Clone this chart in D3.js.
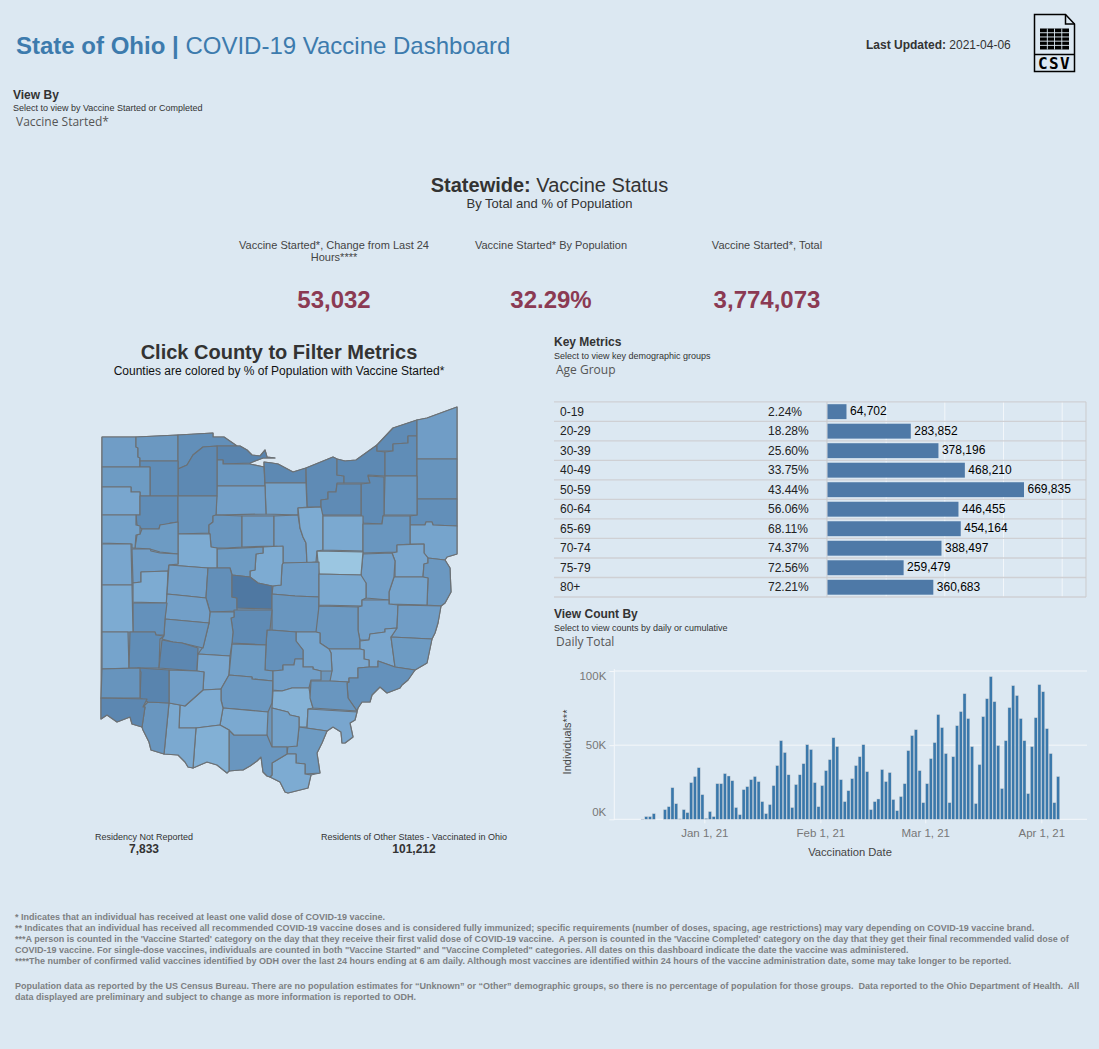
<!DOCTYPE html>
<html>
<head>
<meta charset="utf-8">
<script src="https://cdn.jsdelivr.net/npm/d3@7"></script>
<style>
  html, body { margin: 0; padding: 0; background: #dce8f2; }
  svg { display: block; }
  text { font-family: "Liberation Sans", Arial, sans-serif; }
</style>
</head>
<body>
<svg id="chart" width="1099" height="1049"></svg>
<script>
// key metrics table
const ageGroups = ["0-19","20-29","30-39","40-49","50-59","60-64","65-69","70-74","75-79","80+"];
const agePct = ["2.24%","18.28%","25.60%","33.75%","43.44%","56.06%","68.11%","74.37%","72.56%","72.21%"];
const ageTotals = [64702,283852,378196,468210,669835,446455,454164,388497,259479,360683];
const ageGridTicks = [200000,400000,600000,800000];

// daily counts in thousands, first bar is Dec 15 2020
const dailyStart = new Date(2020, 11, 15);
const dailyK = [0.2,1.8,1.8,3.8,0,0,6.5,8.5,21.3,10.5,0.3,6.5,4.5,24.7,28.8,34.8,16.6,
  0.6,5.2,1.8,24,24,30.8,29.2,26,7.9,3.1,20,22,26.7,28.8,25.4,11.9,3.8,9.9,22.7,36.2,53,45,30,7.9,23.4,30,37.5,50.3,47,24.7,8.5,22.7,
  32.8,40.2,55,49,26.7,11.9,19.3,27.4,36.2,42.2,50.3,32.1,6.5,11.9,13.7,33.5,25.4,31.5,13.3,5.8,15.3,24,46.3,56.4,60.4,32.8,11.2,
  24,40.9,51.7,70.6,61.8,44.3,11.2,42.2,63.1,72.6,84.7,67.9,49,10.6,36.9,69.2,81.3,96.2,79.3,49.7,20.7,53,75.3,90.1,83.4,67.9,53,17.3,49,68.5,90.8,
  86,61.1,44.3,11.2,28.8];
const yTicks = [0, 50000, 100000];
const xTicks = [new Date(2021,0,1), new Date(2021,1,1), new Date(2021,2,1), new Date(2021,3,1)];

const countyNames = ["Williams","Fulton","Lucas","Ottawa","Sandusky","Erie","Lorain","Cuyahoga","Lake","Geauga","Ashtabula","Trumbull","Mahoning","Columbiana","Portage","Summit","Medina","Huron","Seneca","Wood","Henry","Defiance","Paulding","Putnam","Hancock","Wyandot","Crawford","Richland","Ashland","Wayne","Stark","Carroll","Jefferson","Harrison","Tuscarawas","Holmes","Knox","Morrow","Marion","Hardin","Allen","Van Wert","Mercer","Auglaize","Shelby","Logan","Union","Delaware","Licking","Coshocton","Guernsey","Belmont","Muskingum","Noble","Monroe","Morgan","Washington","Perry","Fairfield","Franklin","Madison","Champaign","Clark","Miami","Darke","Preble","Montgomery","Greene","Fayette","Pickaway","Ross","Hocking","Vinton","Athens","Meigs","Gallia","Jackson","Lawrence","Scioto","Pike","Highland","Adams","Brown","Clermont","Clinton","Warren","Butler","Hamilton"];
const countyPct = [30,32,36,42,33,39,38,39,38,37,30,34,36,27,33,38,38,28,29,39,37,31,26,37,34,33,30,29,24,25,33,26,32,27,29,13,30,24,31,24,31,28,26,30,24,29,36,48,33,25,29,30,32,26,31,26,35,27,35,38,31,29,33,35,24,27,37,40,26,31,32,29,21,33,26,31,28,24,33,25,24,22,25,33,30,42,34,40];
const stateOutline = [[102,437],[136,437],[178,435],[213,433],[213,437],[224,437],[237,446],[240,446],[247,450],[252,455],[260,456],[265,450],[267,457],[275,458],[263,458],[250,463],[250,464],[264,467],[264,462],[272,463],[278,464],[293,472],[306,468],[333,457],[337,459],[345,461],[356,460],[377,445],[393,428],[417,420],[427,418],[457,407],[457,554],[447,557],[445,560],[450,568],[451,592],[445,603],[441,606],[438,623],[435,633],[432,639],[427,663],[415,670],[408,680],[402,685],[400,688],[387,693],[380,687],[372,695],[370,702],[362,702],[358,708],[357,712],[355,720],[350,723],[353,737],[345,743],[342,743],[341,732],[333,727],[327,731],[322,743],[317,753],[320,773],[311,775],[308,788],[288,793],[285,792],[280,782],[270,777],[267,776],[263,772],[261,757],[257,761],[250,766],[243,770],[240,770],[229,771],[227,773],[217,765],[207,762],[193,768],[188,767],[185,762],[178,755],[164,754],[151,750],[149,742],[143,730],[142,727],[132,724],[130,717],[117,722],[107,715],[101,719],[101,698]];
const countyOutlines = [
  [[102,437],[136,437],[136,447],[138,448],[138,457],[140,458],[140,467],[102,467]],
  [[136,437],[178,435],[178,461],[140,461],[140,458],[138,457],[138,448],[136,447]],
  [[178,435],[213,433],[213,437],[224,437],[237,446],[217,446],[203,447],[193,455],[187,465],[178,469]],
  [[217,446],[240,446],[247,450],[252,455],[260,456],[265,450],[267,457],[275,458],[263,458],[250,463],[223,464],[223,460],[217,460]],
  [[217,460],[223,460],[223,464],[250,464],[264,467],[265,486],[217,486]],
  [[265,483],[264,462],[272,463],[278,464],[293,472],[306,468],[306,483]],
  [[306,468],[333,457],[337,459],[337,475],[344,476],[344,483],[337,483],[336,492],[328,492],[328,499],[321,500],[321,507],[307,507]],
  [[337,459],[345,461],[356,460],[377,445],[377,451],[385,452],[385,476],[368,475],[370,483],[344,483],[344,476],[337,475]],
  [[377,445],[393,428],[417,420],[417,436],[408,436],[408,443],[393,444],[393,451],[377,451]],
  [[385,452],[393,451],[393,444],[408,443],[408,436],[417,436],[417,476],[385,476]],
  [[417,420],[427,418],[457,407],[457,459],[417,459]],
  [[417,459],[457,459],[457,499],[417,499]],
  [[417,499],[457,499],[457,526],[433,525],[432,522],[426,522],[425,525],[410,525],[410,516],[417,515]],
  [[410,525],[425,525],[426,522],[432,522],[433,525],[457,526],[457,554],[447,557],[445,560],[428,558],[424,553],[424,544],[410,544]],
  [[385,476],[417,476],[417,515],[384,515]],
  [[368,476],[384,477],[384,515],[383,516],[382,524],[363,523],[361,515],[361,484],[370,483]],
  [[337,484],[361,484],[361,515],[321,515],[321,500],[328,499],[328,492],[336,492]],
  [[265,483],[306,483],[307,507],[298,508],[298,515],[266,514]],
  [[217,486],[265,486],[266,514],[216,515]],
  [[178,469],[187,465],[193,455],[203,447],[217,446],[217,496],[178,496]],
  [[140,461],[178,461],[178,496],[150,496],[150,467],[140,467]],
  [[102,467],[150,467],[150,496],[140,496],[140,492],[131,492],[131,487],[102,487]],
  [[102,487],[131,487],[131,492],[140,492],[140,515],[102,515]],
  [[140,496],[178,496],[178,522],[170,523],[170,524],[160,525],[159,529],[142,529],[137,525],[136,515],[140,515]],
  [[178,496],[217,496],[216,515],[213,516],[213,522],[209,525],[209,533],[178,534]],
  [[216,515],[242,516],[242,547],[227,548],[217,548],[211,547],[210,534],[209,533],[209,525],[213,522],[213,516]],
  [[242,516],[274,516],[274,546],[242,547]],
  [[274,516],[298,515],[300,528],[303,537],[306,543],[307,563],[283,563],[283,547],[274,546]],
  [[298,508],[321,507],[323,516],[323,550],[317,551],[316,562],[307,563],[306,543],[303,537],[300,528]],
  [[323,516],[363,516],[363,551],[323,550]],
  [[383,516],[410,516],[410,544],[397,545],[397,552],[363,553],[363,524],[382,524]],
  [[392,553],[397,552],[397,545],[424,544],[424,553],[428,558],[428,563],[424,564],[423,577],[395,577],[395,561]],
  [[428,558],[445,560],[450,568],[451,592],[445,603],[441,606],[427,605],[428,578],[423,577],[424,564],[428,563]],
  [[394,577],[423,577],[428,578],[427,605],[389,604],[389,592]],
  [[363,554],[392,553],[395,561],[394,577],[389,592],[389,600],[366,598],[366,583],[358,582],[361,575]],
  [[317,551],[363,552],[361,575],[319,574]],
  [[283,563],[319,562],[319,597],[295,596],[272,594],[273,586],[281,585],[282,565]],
  [[256,554],[263,553],[263,547],[283,546],[283,563],[282,565],[281,585],[272,586],[258,583],[250,577],[250,571],[255,570]],
  [[217,549],[263,547],[263,553],[256,554],[255,570],[250,571],[250,577],[232,575],[230,568],[217,568]],
  [[178,534],[210,534],[211,547],[217,548],[217,568],[208,568],[169,565],[178,564]],
  [[137,535],[140,534],[142,529],[159,529],[160,525],[178,522],[178,554],[160,552],[150,549],[135,548]],
  [[102,515],[136,515],[136,525],[140,526],[140,534],[136,535],[135,548],[132,548],[132,544],[102,543]],
  [[102,544],[131,544],[132,585],[102,585]],
  [[132,549],[150,549],[151,551],[160,553],[178,554],[178,564],[169,565],[168,571],[141,572],[141,582],[133,583]],
  [[141,572],[168,571],[167,594],[167,603],[133,602],[133,583],[141,582]],
  [[169,565],[208,568],[206,598],[187,596],[167,594]],
  [[208,568],[230,568],[232,575],[232,597],[237,598],[237,611],[210,612],[206,598]],
  [[232,575],[250,577],[258,583],[272,586],[272,609],[237,608],[237,598],[232,597]],
  [[272,594],[295,596],[319,597],[318,632],[296,632],[272,630]],
  [[319,574],[361,575],[366,583],[366,598],[362,600],[362,606],[319,605]],
  [[362,600],[389,600],[389,604],[398,605],[397,628],[385,629],[385,632],[378,633],[370,634],[369,640],[360,640],[358,630],[358,607],[362,606]],
  [[398,605],[441,606],[438,623],[435,633],[432,639],[391,637],[397,628]],
  [[319,606],[358,607],[358,630],[360,641],[360,649],[329,649],[320,643],[320,633],[316,632]],
  [[360,641],[369,640],[370,634],[378,633],[385,632],[385,629],[397,628],[391,637],[395,667],[378,661],[378,667],[369,667],[369,660],[364,659],[364,650],[360,649]],
  [[391,637],[432,639],[427,663],[415,670],[395,667]],
  [[329,649],[360,649],[364,650],[364,659],[369,660],[369,667],[358,668],[358,678],[349,678],[349,682],[330,681],[332,671],[331,653]],
  [[358,668],[369,667],[378,667],[378,661],[395,667],[415,670],[408,680],[402,685],[400,688],[387,693],[380,687],[372,695],[370,702],[362,702],[358,708],[357,711],[348,698],[347,683],[349,682],[349,678],[358,678]],
  [[296,632],[316,632],[320,633],[320,643],[329,649],[331,653],[332,671],[321,671],[313,669],[313,667],[303,667],[303,650],[296,641]],
  [[270,630],[296,632],[296,641],[303,650],[303,659],[295,659],[294,665],[283,665],[283,670],[273,671],[265,670],[266,645],[267,630]],
  [[234,610],[272,610],[270,630],[267,630],[266,645],[232,643],[233,632],[231,618],[234,617]],
  [[210,612],[234,612],[234,617],[231,618],[233,632],[232,643],[230,656],[198,654],[203,647],[209,623]],
  [[167,594],[187,596],[206,598],[210,612],[209,623],[165,619]],
  [[165,619],[209,623],[203,648],[182,643],[173,642],[162,639],[164,635]],
  [[133,603],[167,603],[165,619],[164,635],[156,635],[155,632],[133,632]],
  [[102,585],[132,585],[133,632],[102,632]],
  [[102,632],[128,632],[129,668],[102,669]],
  [[130,632],[155,632],[156,635],[164,636],[160,639],[159,668],[138,668],[129,668]],
  [[162,640],[173,642],[182,643],[198,648],[197,671],[159,668]],
  [[198,654],[230,656],[229,675],[221,689],[203,690],[204,672],[197,671]],
  [[232,644],[266,645],[265,670],[273,671],[273,681],[252,679],[252,677],[229,675]],
  [[229,675],[252,677],[252,679],[273,681],[272,703],[268,712],[223,708],[221,700],[221,689]],
  [[273,671],[283,670],[283,665],[294,665],[295,659],[303,659],[303,667],[313,667],[313,669],[321,671],[321,680],[311,680],[309,688],[292,688],[282,691],[273,690]],
  [[273,691],[282,691],[292,688],[309,688],[311,700],[313,708],[308,709],[307,727],[299,727],[299,717],[290,715],[288,712],[272,708]],
  [[311,681],[330,681],[349,682],[347,683],[348,698],[357,711],[313,708],[310,698]],
  [[308,709],[357,712],[355,720],[350,723],[353,737],[345,743],[342,743],[341,732],[333,727],[327,731],[307,728]],
  [[299,727],[327,731],[322,743],[317,753],[320,773],[305,774],[305,764],[296,763],[296,754],[287,754],[288,746],[297,746]],
  [[272,708],[288,712],[290,715],[299,717],[299,727],[297,746],[287,747],[272,747]],
  [[272,763],[287,754],[296,754],[296,763],[305,764],[305,774],[311,775],[308,788],[288,793],[285,792],[280,782],[270,777],[272,775]],
  [[229,730],[234,735],[267,735],[272,747],[287,747],[287,754],[272,763],[272,775],[270,777],[267,776],[263,772],[261,757],[257,761],[250,766],[243,770],[240,770],[229,771]],
  [[223,708],[268,712],[267,735],[234,735],[229,730],[220,725]],
  [[180,705],[185,706],[203,690],[221,689],[221,700],[223,708],[220,725],[196,728],[179,728]],
  [[196,728],[220,725],[229,730],[229,771],[227,773],[217,765],[207,762],[193,768]],
  [[179,728],[196,728],[193,768],[188,767],[185,762],[178,755],[164,754],[169,703],[180,705]],
  [[143,707],[148,702],[169,703],[164,754],[151,750],[149,742],[143,730],[142,727],[145,707]],
  [[169,670],[197,671],[204,672],[203,690],[185,706],[180,705],[169,703]],
  [[138,668],[169,670],[169,703],[148,702],[140,698],[141,672]],
  [[102,669],[140,668],[140,698],[117,698],[101,698]],
  [[101,698],[147,699],[143,707],[145,707],[142,727],[132,724],[130,717],[117,722],[107,715],[101,719]]
];

const footnotes = [
  "* Indicates that an individual has received at least one valid dose of COVID-19 vaccine.",
  "** Indicates that an individual has received all recommended COVID-19 vaccine doses and is considered fully immunized; specific requirements (number of doses, spacing, age restrictions) may vary depending on COVID-19 vaccine brand.",
  "***A person is counted in the 'Vaccine Started' category on the day that they receive their first valid dose of COVID-19 vaccine.  A person is counted in the 'Vaccine Completed' category on the day that they get their final recommended valid dose of",
  "COVID-19 vaccine. For single-dose vaccines, individuals are counted in both \"Vaccine Started\" and \"Vaccine Completed\" categories. All dates on this dashboard indicate the date the vaccine was administered.",
  "****The number of confirmed valid vaccines identified by ODH over the last 24 hours ending at 6 am daily. Although most vaccines are identified within 24 hours of the vaccine administration date, some may take longer to be reported.",
  "",
  "",
  "Population data as reported by the US Census Bureau. There are no population estimates for \u201cUnknown\u201d or \u201cOther\u201d demographic groups, so there is no percentage of population for those groups.  Data reported to the Ohio Department of Health.  All",
  "data displayed are preliminary and subject to change as more information is reported to ODH."
];

const svg = d3.select("#chart");
svg.append("rect").attr("width", 1099).attr("height", 1049).attr("fill", "#dce8f2");

function label(x, y, str, size, opts) {
  opts = opts || {};
  return svg.append("text").attr("x", x).attr("y", y)
    .attr("font-size", size)
    .attr("font-weight", opts.bold ? "bold" : "normal")
    .attr("fill", opts.fill || "#333")
    .attr("text-anchor", opts.anchor || "start")
    .style("font-family", opts.family || null)
    .style("white-space", "pre")
    .text(str);
}

// header
const head = label(16, 54, "State of Ohio | ", 24, {bold: true, fill: "#3d7bad"});
head.append("tspan").attr("font-weight", "normal").text("COVID-19 Vaccine Dashboard");
const upd = label(866, 49, "Last Updated: ", 12, {bold: true});
upd.append("tspan").attr("font-weight", "normal").text("2021-04-06");

// csv icon
const icon = svg.append("g").attr("fill", "none").attr("stroke", "#000").attr("stroke-width", 1.5);
icon.append("path").attr("d", "M1034.5 14.5H1065.5L1074.5 24V71.5H1034.5Z");
icon.append("path").attr("d", "M1065.5 14.5V24H1074.5");
icon.append("path").attr("d", "M1034.5 54.5H1074.5");
icon.append("rect").attr("x", 1040).attr("y", 28.5).attr("width", 29).attr("height", 21).attr("fill", "#000").attr("stroke", "none");
d3.range(1, 5).forEach(i => {
  svg.append("rect").attr("x", 1040).attr("y", 28.5 + i * 4.2 - 0.4).attr("width", 29).attr("height", 0.9).attr("fill", "#dce8f2");
});
d3.range(1, 4).forEach(i => {
  svg.append("rect").attr("x", 1040 + i * 7.25 - 0.4).attr("y", 28.5).attr("width", 0.9).attr("height", 21).attr("fill", "#dce8f2");
});
label(1054.5, 69, "CSV", 16, {bold: true, fill: "#000", anchor: "middle", family: "'DejaVu Sans Mono', monospace"}).attr("letter-spacing", 1.4);

// parameter controls
const paramFont = "'Open Sans', sans-serif";
label(13, 99, "View By", 12, {bold: true});
label(13, 110.5, "Select to view by Vaccine Started or Completed", 9);
label(16, 126, "Vaccine Started*", 12, {fill: "#555", family: paramFont});
label(554, 346, "Key Metrics", 12, {bold: true});
label(554, 358.5, "Select to view key demographic groups", 9);
label(556, 374, "Age Group", 12, {fill: "#555", family: paramFont});
label(554, 618, "View Count By", 12, {bold: true});
label(554, 630.5, "Select to view counts by daily or cumulative", 9);
label(556, 646, "Daily Total", 12, {fill: "#555", family: paramFont});

// statewide kpis
const state = label(549.5, 192, "Statewide: ", 20, {bold: true, anchor: "middle"});
state.append("tspan").attr("font-weight", "normal").text("Vaccine Status");
label(549.5, 208, "By Total and % of Population", 13, {anchor: "middle"});
label(334, 249, "Vaccine Started*, Change from Last 24", 11, {anchor: "middle", fill: "#444"});
label(334, 261, "Hours****", 11, {anchor: "middle", fill: "#444"});
label(551, 249, "Vaccine Started* By Population", 11, {anchor: "middle", fill: "#444"});
label(767, 249, "Vaccine Started*, Total", 11, {anchor: "middle", fill: "#444"});
label(334, 308, "53,032", 24, {bold: true, anchor: "middle", fill: "#8b3a53"});
label(551, 308, "32.29%", 24, {bold: true, anchor: "middle", fill: "#8b3a53"});
label(767, 308, "3,774,073", 24, {bold: true, anchor: "middle", fill: "#8b3a53"});

// map
label(279, 359, "Click County to Filter Metrics", 20, {bold: true, anchor: "middle"});
label(279, 375, "Counties are colored by % of Population with Vaccine Started*", 12, {anchor: "middle", fill: "#111"});

const mapX = d3.scaleLinear().domain([100, 460]).range([100, 460]);
const mapY = d3.scaleLinear().domain([400, 800]).range([400, 800]);
const color = d3.scaleLinear()
  .domain([13, 24, 36, 48])
  .range(["#9bc6e1", "#7dabd2", "#628fb9", "#4f78a2"]);
const countyLine = d3.line().x(d => mapX(d[0])).y(d => mapY(d[1])).curve(d3.curveLinearClosed);

// state shape under the counties so traced seams do not show the page
svg.append("path").datum(stateOutline)
  .attr("d", countyLine)
  .attr("fill", "#6c96bc")
  .attr("stroke", "#6c7175")
  .attr("stroke-width", 1.1)
  .attr("stroke-linejoin", "round");

svg.append("g").selectAll("path")
  .data(countyOutlines)
  .join("path")
    .attr("d", countyLine)
    .attr("fill", (d, i) => color(countyPct[i]))
    .attr("stroke", "#6c7175")
    .attr("stroke-width", 1.2)
    .attr("stroke-linejoin", "round")
  .append("title").text((d, i) => countyNames[i]);

label(144, 840, "Residency Not Reported", 9, {anchor: "middle"});
label(144, 853, "7,833", 12, {bold: true, anchor: "middle"});
label(414, 840, "Residents of Other States - Vaccinated in Ohio", 9, {anchor: "middle"});
label(414, 853, "101,212", 12, {bold: true, anchor: "middle"});

// key metrics table
const rowY = d3.scaleBand().domain(ageGroups).range([401.9, 597]);
const barX = d3.scaleLinear().domain([0, 669835]).range([827.5, 1024]);
const table = svg.append("g");

table.selectAll("line.vgrid")
  .data(ageGridTicks)
  .join("line")
    .attr("class", "vgrid")
    .attr("x1", d => barX(d)).attr("x2", d => barX(d))
    .attr("y1", 401.9).attr("y2", 597)
    .attr("stroke", "#f2f6fa").attr("stroke-width", 1);
table.selectAll("line.row")
  .data(d3.range(ageGroups.length + 1))
  .join("line")
    .attr("class", "row")
    .attr("x1", 554).attr("x2", 1086)
    .attr("y1", i => 401.9 + i * rowY.step())
    .attr("y2", i => 401.9 + i * rowY.step())
    .attr("stroke", "#cfd0d4").attr("stroke-width", 1.3);
[827, 1086].forEach(x => {
  table.append("line").attr("x1", x).attr("x2", x).attr("y1", 401.9).attr("y2", 597)
    .attr("stroke", "#cbcbcd").attr("stroke-width", 1);
});
table.selectAll("rect.bar")
  .data(ageTotals)
  .join("rect")
    .attr("class", "bar")
    .attr("x", barX(0))
    .attr("y", (d, i) => rowY(ageGroups[i]) + 2.3)
    .attr("width", d => barX(d) - barX(0))
    .attr("height", rowY.bandwidth() - 4.6)
    .attr("fill", "#4e79a7");
const fmt = d3.format(",");
ageGroups.forEach((g, i) => {
  const cy = rowY(g) + rowY.bandwidth() / 2 + 4;
  label(560, cy, g, 12, {fill: "#222"});
  label(768, cy, agePct[i], 12, {fill: "#222"});
  label(barX(ageTotals[i]) + 3.5, cy - 0.5, fmt(ageTotals[i]), 12, {fill: "#000"});
});

// daily chart
const dailyDates = dailyK.map((d, i) => d3.timeDay.offset(dailyStart, i));
const x = d3.scaleTime().domain([new Date(2021,0,1), new Date(2021,3,1)]).range([704.3, 1041.3]);
const y = d3.scaleLinear().domain([0, 100000]).range([819.3, 671]);
const dayW = x(new Date(2021,0,2)) - x(new Date(2021,0,1));

const yAxis = d3.axisLeft(y).tickValues(yTicks).tickFormat(d => d / 1000 + "K").tickSize(5).tickPadding(3);
const xAxis = d3.axisBottom(x).tickValues(xTicks).tickFormat(d3.timeFormat("%b %-d, %y")).tickSize(4).tickPadding(6);

const plot = svg.append("g");
plot.selectAll("line.grid")
  .data(yTicks)
  .join("line")
    .attr("class", "grid")
    .attr("x1", 614.3).attr("x2", 1087)
    .attr("y1", d => y(d)).attr("y2", d => y(d))
    .attr("stroke", "#f4f7fa").attr("stroke-width", 1);

const gy = plot.append("g").attr("transform", "translate(614.3,0)").call(yAxis);
gy.select(".domain").attr("stroke", "#f4f7fa").attr("d", "M0,669V820");
gy.selectAll(".tick line").attr("stroke", "#f4f7fa");
gy.selectAll(".tick text").attr("font-size", 11.5).attr("fill", "#777")
  .style("font-family", "'Liberation Sans', Arial, sans-serif")
  .attr("y", d => d === 100000 ? 4.5 : d === 0 ? -7 : 0);

const gx = plot.append("g").attr("transform", "translate(0,819.3)").call(xAxis);
gx.select(".domain").remove();
gx.selectAll(".tick line").attr("stroke", "#f4f7fa");
gx.selectAll(".tick text").attr("font-size", 11.5).attr("fill", "#777")
  .style("font-family", "'Liberation Sans', Arial, sans-serif");

plot.selectAll("rect.day")
  .data(dailyK)
  .join("rect")
    .attr("class", "day")
    .attr("x", (d, i) => x(dailyDates[i]) + 0.35)
    .attr("y", d => y(d * 1000))
    .attr("width", dayW - 0.7)
    .attr("height", d => y(0) - y(d * 1000))
    .attr("fill", "#3a78ab")
    .attr("stroke", "#cfd2d6")
    .attr("stroke-width", 0.4);

label(850, 856, "Vaccination Date", 11.2, {anchor: "middle", fill: "#444"});
svg.append("text").attr("transform", "translate(571,742) rotate(-90)")
  .attr("text-anchor", "middle").attr("font-size", 11).attr("fill", "#444").text("Individuals***");

// footnotes
const noteY = d3.scaleLinear().domain([0, 8]).range([920, 1008]);
footnotes.forEach((t, i) => {
  if (t) label(15, noteY(i) - (i > 4 ? 8 : 0), t, 9, {bold: true, fill: "#7d7f82"});
});
</script>
</body>
</html>
